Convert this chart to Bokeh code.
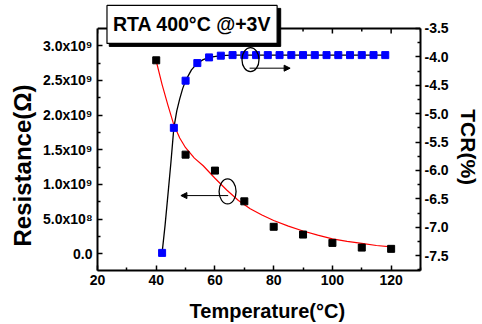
from bokeh.plotting import figure
from bokeh.models import (Range1d, LinearAxis, FixedTicker, Label, Arrow, NormalHead,
                          PrintfTickFormatter, Span)
from bokeh.embed import file_html
from bokeh.resources import INLINE

# ---- data ----
temp_r = [40, 50, 60, 70, 80, 90, 100, 110, 120]
resistance = [2.79e9, 1.43e9, 1.20e9, 0.757e9, 0.39e9, 0.278e9, 0.158e9, 0.09e9, 0.072e9]

fit_t = [40, 42, 44, 46, 48, 50, 53, 56, 60, 64, 68, 72, 76, 80, 85, 90, 95, 100, 105, 110, 115, 120]
fit_r = [2.78e9, 2.44e9, 2.14e9, 1.86e9, 1.67e9, 1.53e9, 1.38e9, 1.27e9, 1.09e9, 0.92e9, 0.77e9,
         0.65e9, 0.56e9, 0.48e9, 0.40e9, 0.33e9, 0.27e9, 0.215e9, 0.18e9, 0.15e9, 0.12e9, 0.10e9]

temp_tcr = [42, 46, 50, 54, 58, 62, 66, 70, 74, 78, 82, 86, 90, 94, 98, 102, 106, 110, 114, 118]
tcr = [-7.45, -5.25, -4.42, -4.11, -4.01, -3.98, -3.97, -3.97, -3.97, -3.97, -3.97, -3.97,
       -3.97, -3.97, -3.97, -3.97, -3.97, -3.97, -3.97, -3.97]

tcr_line_t = [42, 43, 44, 45, 46, 47, 48, 49, 50, 52, 54, 56, 58, 62, 66, 118]
tcr_line_v = [-7.45, -6.97, -6.42, -5.86, -5.25, -4.95, -4.74, -4.56, -4.42, -4.23, -4.11,
              -4.05, -4.01, -3.98, -3.97, -3.97]

x_ticks = [20, 40, 60, 80, 100, 120]
x_minor = [30, 50, 70, 90, 110, 130]
r_ticks = [0.0, 0.5e9, 1.0e9, 1.5e9, 2.0e9, 2.5e9, 3.0e9]
r_labels = ["0.0", "5.0x10\u2078", "1.0x10\u2079", "1.5x10\u2079", "2.0x10\u2079",
            "2.5x10\u2079", "3.0x10\u2079"]
r_minor = [0.25e9, 0.75e9, 1.25e9, 1.75e9, 2.25e9, 2.75e9]
t_ticks = [-7.5, -7.0, -6.5, -6.0, -5.5, -5.0, -4.5, -4.0, -3.5]
t_minor = [-7.75, -7.25, -6.75, -6.25, -5.75, -5.25, -4.75, -4.25, -3.75]

# visible axis extents (the frame is extended upward so the title box fits inside)
R_LO, R_HI = -0.24e9, 3.25e9
T_LO, T_HI = -7.76, -3.5
FRAME_TOP_PX = 28          # pixel height of the extra strip above the axes box
AX_PX = 243                # pixel height of the axes box
r_per_px = (R_HI - R_LO) / AX_PX
t_per_px = (T_HI - T_LO) / AX_PX

FONT = "Liberation Sans"
NBSP = "\u00a0"

p = figure(width=482, height=324, output_backend="svg", toolbar_location=None,
           x_range=Range1d(20, 130),
           y_range=Range1d(R_LO, R_HI + FRAME_TOP_PX * r_per_px),
           min_border_left=97, min_border_right=57, min_border_top=0, min_border_bottom=53)
p.extra_y_ranges = {"tcr": Range1d(T_LO, T_HI + FRAME_TOP_PX * t_per_px)}
p.grid.visible = False
p.outline_line_color = None
p.background_fill_color = "white"
p.border_fill_color = "white"


def style_axis(ax, label_size):
    ax.axis_line_width = 2
    ax.axis_line_color = "black"
    ax.major_tick_in = 5
    ax.major_tick_out = 0
    ax.minor_tick_in = 3
    ax.minor_tick_out = 0
    ax.major_tick_line_width = 1.5
    ax.minor_tick_line_width = 1.5
    ax.major_label_text_font = FONT
    ax.major_label_text_font_style = "bold"
    ax.major_label_text_font_size = "14px"
    ax.major_label_text_color = "black"
    ax.axis_label_text_font = FONT
    ax.axis_label_text_font_style = "bold"
    ax.axis_label_text_font_size = label_size
    ax.axis_label_text_color = "black"


xa = p.xaxis[0]
xa.ticker = FixedTicker(ticks=x_ticks, minor_ticks=x_minor)
xa.axis_label = NBSP * 3 + "Temperature(\u00b0C)"
style_axis(xa, "20px")
xa.major_label_standoff = 4
xa.axis_label_standoff = 12

ya = p.yaxis[0]
ya.ticker = FixedTicker(ticks=r_ticks, minor_ticks=r_minor)
ya.major_label_overrides = {v: s for v, s in zip(r_ticks, r_labels)}
ya.axis_label = "Resistance(\u03a9)" + NBSP * 9
ya.bounds = (R_LO, R_HI)
style_axis(ya, "24px")
ya.major_label_standoff = 5
ya.axis_label_standoff = 4

ra = LinearAxis(y_range_name="tcr", ticker=FixedTicker(ticks=t_ticks, minor_ticks=t_minor),
                formatter=PrintfTickFormatter(format="%.1f"), axis_label=NBSP * 4 + "TCR(%)")
ra.bounds = (T_LO, T_HI)
style_axis(ra, "21px")
ra.major_label_standoff = 4
ra.axis_label_standoff = 5
p.add_layout(ra, "right")

# top edge of the axes box with inward ticks
p.add_layout(Span(location=R_HI, dimension="width", line_color="black", line_width=2))
p.segment(x0=x_ticks, x1=x_ticks, y0=[R_HI] * len(x_ticks),
          y1=[R_HI - 5 * r_per_px] * len(x_ticks), line_color="black", line_width=1.5)
p.segment(x0=x_minor, x1=x_minor, y0=[R_HI] * len(x_minor),
          y1=[R_HI - 3 * r_per_px] * len(x_minor), line_color="black", line_width=1.5)

# ---- data marks ----
p.line(fit_t, fit_r, line_color="#ff0000", line_width=1.2)
p.line(tcr_line_t, tcr_line_v, y_range_name="tcr", line_color="black", line_width=1.3)
p.scatter(temp_r, resistance, marker="square", size=7, fill_color="black", line_color="black")
p.scatter(temp_tcr, tcr, y_range_name="tcr", marker="square", size=7,
          fill_color="#0000ff", line_color="#0000ff")

# ---- annotations ----
p.ellipse(x=[72.1], y=[-4.05], width=17, height=24, width_units="screen",
          height_units="screen", y_range_name="tcr", fill_color=None, line_color="black",
          line_width=1.3)
p.add_layout(Arrow(x_start=71.8, y_start=-4.2, x_end=85.6, y_end=-4.2, y_range_name="tcr",
                   line_width=1, end=NormalHead(size=6, fill_color="black", line_color="black")))
p.ellipse(x=[64.3], y=[0.90e9], width=17, height=25, width_units="screen",
          height_units="screen", fill_color=None, line_color="black", line_width=1.3)
p.add_layout(Arrow(x_start=64.5, y_start=0.84e9, x_end=48.4, y_end=0.84e9,
                   line_width=1, end=NormalHead(size=6, fill_color="black", line_color="black")))

# title box with drop shadow
p.add_layout(Label(x=53.2, y=R_HI + 1 * r_per_px, text=NBSP, text_font=FONT,
                   text_font_style="bold", text_font_size="19.5px", text_align="center",
                   text_baseline="middle", background_fill_color="black",
                   border_line_color="black",
                   padding=dict(left=83, right=83, top=8, bottom=8)))
p.add_layout(Label(x=52.2, y=R_HI + 4 * r_per_px, text="RTA 400\u00b0C @+3V", text_font=FONT,
                   text_font_style="bold", text_font_size="19.5px", text_align="center",
                   text_baseline="middle", text_color="black",
                   background_fill_color="white", border_line_color="black",
                   border_line_width=1.2, padding=dict(left=6, right=6, top=8, bottom=8)))

open("out.html", "w").write(file_html(p, INLINE))
